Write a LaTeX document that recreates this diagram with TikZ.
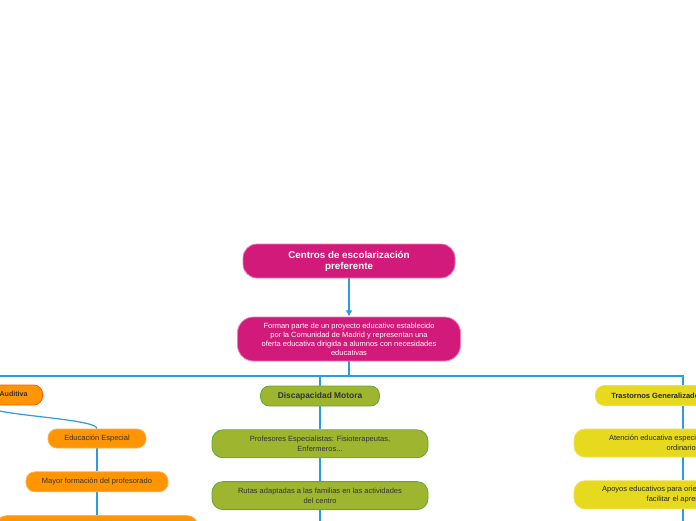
\documentclass[tikz,border=0pt]{standalone}
\usepackage{fontspec}
\setmainfont{Liberation Sans}
\usepackage{xcolor}
\usetikzlibrary{arrows.meta,positioning,backgrounds}

\definecolor{mag}{HTML}{D11A7A}
\definecolor{magline}{HTML}{F07CB8}
\definecolor{olive}{HTML}{9DB52F}
\definecolor{oliveline}{HTML}{5FA83A}
\definecolor{orng}{HTML}{FF9500}
\definecolor{orngline}{HTML}{FFB14A}
\definecolor{yell}{HTML}{E6D91E}
\definecolor{yellline}{HTML}{EDE24A}
\definecolor{wire}{HTML}{2C9BDF}

\begin{document}
\begin{tikzpicture}[x=1pt, y=-1pt,
  box/.style={rounded corners=11pt, align=center, inner sep=2pt, line width=0.8pt},
  magbox/.style={box, fill=mag, draw=magline, text=white},
  olbox/.style={box, fill=olive, draw=oliveline, text=black!80, font=\fontsize{7.5}{9.5}\selectfont},
  orbox/.style={box, fill=orng, draw=orngline, text=black!80, font=\fontsize{7.5}{9.5}\selectfont},
  yebox/.style={box, fill=yell, draw=yellline, text=black!85, font=\fontsize{7.5}{9.5}\selectfont},
  head/.style={minimum height=20pt, inner xsep=16pt, rounded corners=9pt,
               font=\bfseries\fontsize{7.5}{10}\selectfont},
  wire/.style={draw=wire, line width=1.2pt},
  arr/.style={wire, -{Latex[length=2.2mm, width=2.4mm]}},
  node distance=23pt]
\useasboundingbox (0,0) rectangle (696,520);
\clip (0,0) rectangle (696,520);

% root and description
\node[magbox, minimum width=212pt, minimum height=34pt, rounded corners=14pt,
      font=\bfseries\fontsize{9.8}{11}\selectfont] (root) at (349,261)
  {Centros de escolarización\\preferente};
\node[magbox, minimum width=223pt, minimum height=44pt, rounded corners=16pt,
      font=\fontsize{7.5}{9}\selectfont] (desc) at (349,339)
  {Forman parte de un proyecto educativo establecido\\por la Comunidad de Madrid y representan una\\oferta educativa dirigida a alumnos con necesidades\\educativas};
\coordinate (spine) at (349,376);

% branches
\node[orbox, head, inner xsep=15pt, draw=orange!70!red, anchor=east,
      font=\bfseries\fontsize{7.1}{10}\selectfont] (aud) at (43,395) {Discapacidad Auditiva};
\node[olbox, head, minimum width=119pt, font=\bfseries\fontsize{8.4}{10}\selectfont] (mot) at (320,396) {Discapacidad Motora};
\node[yebox, head, anchor=west] (tras) at (595,395.5) {Trastornos Generalizados del Desarrollo};

% auditiva
\node[orbox, minimum width=98pt, minimum height=19pt, rounded corners=9pt] (edu) at (97,438.5) {Educación Especial};
\node[orbox, minimum width=142pt, minimum height=20pt, rounded corners=9pt, below=of edu] (form) {Mayor formación del profesorado};
\node[orbox, minimum width=202pt, minimum height=28pt, below=of form] (aud3) {};

% motora
\node[olbox, minimum width=216pt, minimum height=28pt, below=of mot] (prof)
  {Profesores Especialistas: Fisioterapeutas,\\Enfermeros...};
\node[olbox, minimum width=216pt, minimum height=28pt, below=of prof] (ruta)
  {Rutas adaptadas a las familias en las actividades\\del centro};

% trastornos
\node[yebox, minimum width=218pt, minimum height=28pt] (aten) at (683,443)
  {Atención educativa especializada en centros\\ordinarios};
\node[yebox, minimum width=218pt, minimum height=28pt, below=of aten] (apoy)
  {Apoyos educativos para orientar a los alumnos y\\facilitar el aprendizaje};

\coordinate (ruta-end) at (ruta.south |- 0,540);
\coordinate (apoy-end) at (apoy.south |- 0,540);

\begin{scope}[on background layer]
\draw[arr] (root) -- (desc);
\draw[wire] (desc.south) -- (spine) -| (aud.north);
\draw[wire] (spine) -| (mot.north);
\draw[wire] (spine) -| (aten.north);
\draw[wire] (aud.south) .. controls (-19,415) and (97,418) .. (edu.north);
\foreach \a/\b in {edu/form, form/aud3, mot/prof, prof/ruta, ruta/ruta-end, aten/apoy, apoy/apoy-end}
  \draw[wire] (\a) -- (\b);
\end{scope}
\end{tikzpicture}
\end{document}
